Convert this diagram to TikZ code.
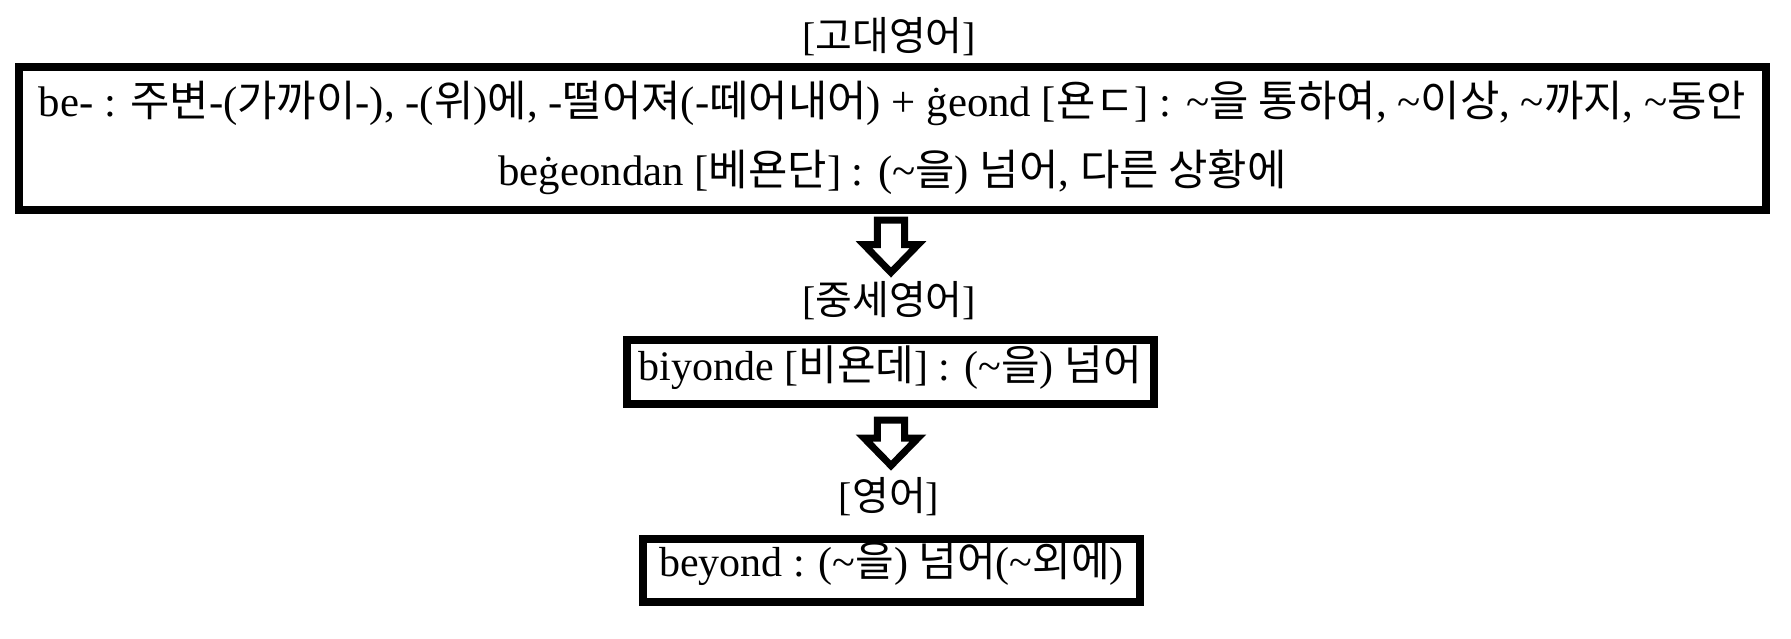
\documentclass[tikz,border=0pt]{standalone}
\usepackage{fontspec}
\setmainfont{Liberation Serif}
\newfontfamily\krfont{Noto Sans CJK KR}
\newcommand\K[1]{{\krfont #1}}
\newcommand\Tld{\symbol{126}}
\usetikzlibrary{calc}
\tikzset{
  box/.style={draw, line width=8pt, inner sep=0pt, outer sep=0pt, align=center,
    font=\fontsize{42}{69}\selectfont},
  title/.style={anchor=base, inner sep=0pt, font=\fontsize{40}{48}\selectfont},
  blockarrow/.style={draw, line width=7pt, fill=white, miter limit=10},
  pics/hollow/.style n args={2}{code={
    \draw[blockarrow] (-13.7,0) -- (13.7,0) -- (13.7,#1) -- (27,#1) -- (0,#2)
      -- (-27,#1) -- (-13.7,#1) -- cycle;
  }}
}
\begin{document}
\begin{tikzpicture}[x=1pt, y=-1pt]
\fill[white] (0,0) rectangle (1791,638);
\useasboundingbox (0,0) rectangle (1791,638);
% titles
\node[title] (t1) at (889,50) {[\K{고대영어}]};
\node[title] (t2) at (889,314) {[\K{중세영어}]};
\node[title] (t3) at (889,510) {[\K{영어}]};
% boxes
\node[box, font=\fontsize{42.8}{69}\selectfont, minimum width=1747pt, minimum height=143.3pt] (old) at (892.5,138.35)
  {be- : \K{주변}-(\K{가까이}-), -(\K{위})\K{에}, -\K{떨어져}(-\K{떼어내어}) + ġeond [\K{욘ㄷ}] : \Tld\K{을 통하여}, \Tld\K{이상}, \Tld\K{까지}, \Tld\K{동안}\\
   beġeondan [\K{베욘단}] : (\Tld\K{을}) \K{넘어}, \K{다른 상황에}};
\node[box, minimum width=526.5pt, minimum height=64pt, text height=28pt, text depth=12pt] (mid) at (890.25,372)
  {biyonde [\K{비욘데}] : (\Tld\K{을}) \K{넘어}};
\node[box, minimum width=497pt, minimum height=62.5pt, text height=26pt, text depth=13pt] (new) at (891.5,570.25)
  {beyond : (\Tld\K{을}) \K{넘어}(\Tld\K{외에})};
% arrows
\pic at ($(old.south)+(-1.5,10)$) {hollow={24.7}{52.5}};
\pic at ($(mid.south)+(0.75,16)$) {hollow={18}{45.6}};
\end{tikzpicture}
\end{document}
